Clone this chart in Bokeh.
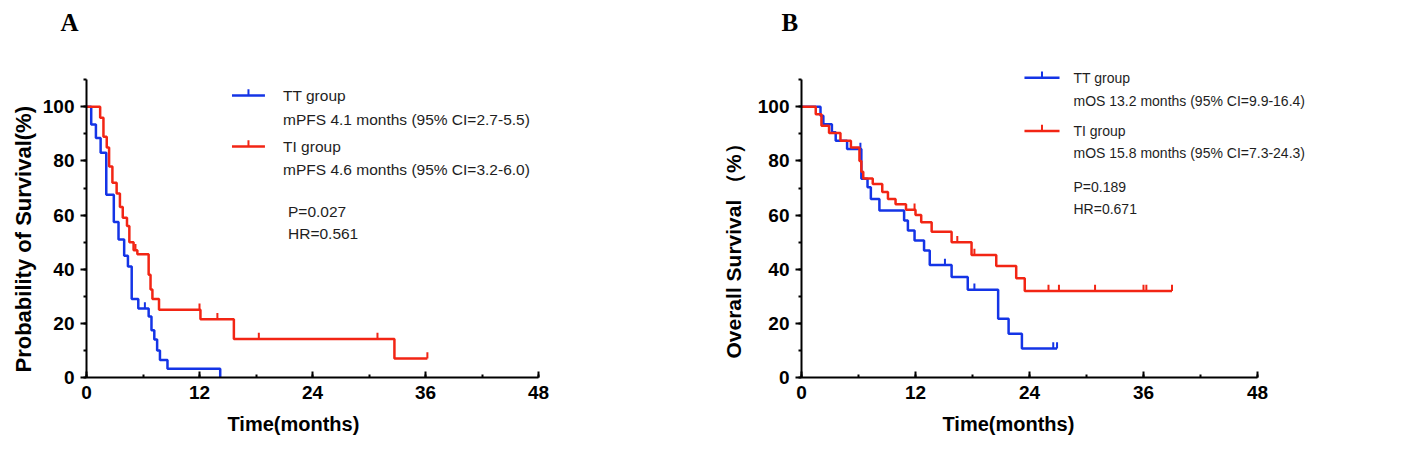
from bokeh.plotting import figure
from bokeh.models import SingleIntervalTicker, Range1d, Title
from bokeh.layouts import row
from bokeh.embed import file_html
from bokeh.resources import INLINE
from bokeh.core.properties import value

# ---------------- data ----------------
x_ticks = [0, 12, 24, 36, 48]
y_ticks = [0, 20, 40, 60, 80, 100]

# Panel A: progression-free survival
a_tt_time = [0.5, 1.0, 1.5, 2.1, 2.9, 3.4, 4.0, 4.4, 4.8, 5.5, 6.6, 6.9, 7.2, 7.5, 7.8, 8.6, 14.2]
a_tt_surv = [93.5, 88.5, 83.0, 67.5, 57.5, 51.0, 45.0, 41.0, 29.0, 25.5, 22.5, 17.5, 14.0, 10.0, 6.5, 3.2, 0.0]
a_tt_end = 14.2
a_tt_cens_t = [6.2]
a_tt_cens_s = [25.5]

a_ti_time = [1.45, 1.8, 2.15, 2.4, 2.75, 3.2, 3.55, 3.85, 4.3, 4.55, 5.0, 5.4, 6.6, 6.8, 7.0, 7.7, 12.1, 15.65, 32.7]
a_ti_surv = [96.0, 89.0, 85.0, 78.0, 72.0, 68.0, 63.0, 59.0, 56.0, 50.0, 47.0, 45.5, 38.0, 32.5, 29.0, 25.0, 21.5, 14.2, 7.0]
a_ti_end = 36.2
a_ti_cens_t = [5.2, 12.0, 13.9, 18.3, 30.9, 36.2]
a_ti_cens_s = [47.0, 25.0, 21.5, 14.2, 14.2, 7.0]

# Panel B: overall survival
b_tt_time = [2.0, 2.3, 3.2, 3.6, 4.8, 6.3, 6.95, 7.3, 8.2, 10.8, 11.2, 11.9, 12.9, 13.5, 15.8, 17.5, 20.7, 21.8, 23.2]
b_tt_surv = [96.7, 93.6, 90.6, 87.5, 84.4, 73.4, 70.3, 66.0, 61.7, 58.0, 54.3, 50.6, 46.9, 41.6, 37.1, 32.4, 21.7, 16.2, 10.7]
b_tt_end = 26.9
b_tt_cens_t = [6.2, 15.1, 18.2, 26.5, 26.9]
b_tt_cens_s = [84.4, 41.6, 32.4, 10.7, 10.7]

b_ti_time = [1.5, 2.1, 2.9, 4.1, 5.2, 6.1, 6.3, 6.5, 7.5, 8.5, 9.1, 9.9, 11.0, 12.0, 12.6, 13.7, 15.8, 17.9, 20.5, 22.6, 23.5]
b_ti_surv = [97.3, 93.0, 90.3, 87.5, 85.0, 80.0, 76.0, 73.5, 71.5, 68.5, 66.0, 64.0, 62.0, 60.0, 57.4, 53.9, 50.0, 45.3, 41.2, 36.7, 32.0]
b_ti_end = 39.0
b_ti_cens_t = [11.9, 16.4, 18.2, 26.0, 27.1, 30.9, 36.0, 36.3, 39.0]
b_ti_cens_s = [62.0, 50.0, 45.3, 32.0, 32.0, 32.0, 32.0, 32.0, 32.0]

a_legend = ["TT group", "mPFS 4.1 months (95% CI=2.7-5.5)",
            "TI group", "mPFS 4.6 months (95% CI=3.2-6.0)",
            "P=0.027", "HR=0.561"]
b_legend = ["TT group", "mOS 13.2 months (95% CI=9.9-16.4)",
            "TI group", "mOS 15.8 months (95% CI=7.3-24.3)",
            "P=0.189", "HR=0.671"]

BLUE = "#1434e6"
RED = "#f22514"
FONT = "Liberation Sans"


def km_xy(times, surv, end):
    xs = [0.0] + list(times) + [end]
    ys = [100.0] + list(surv) + [surv[-1]]
    return xs, ys


def make_panel(width, lb, rb, bb, xmax, ylabel, ylabel_size, ylabel_offset, ylabel_standoff,
               tag, tag_offset, xlabel_offset, series, legend, leg_pos, leg_size):
    p = figure(width=width, height=446, output_backend="svg", toolbar_location=None,
               x_range=Range1d(0, xmax), y_range=Range1d(0, 126),
               min_border_left=lb, min_border_right=rb, min_border_top=36,
               min_border_bottom=bb)
    p.outline_line_color = None
    p.grid.visible = False
    p.background_fill_color = "white"

    p.title.text = tag
    p.title.text_font = "Liberation Serif"
    p.title.text_font_style = "bold"
    p.title.text_font_size = "25px"
    p.title.text_color = "black"
    p.title.align = "left"
    p.title.offset = tag_offset
    p.title.standoff = 2

    p.xaxis.ticker = SingleIntervalTicker(interval=12, num_minor_ticks=2)
    p.yaxis.ticker = SingleIntervalTicker(interval=20, num_minor_ticks=2)
    p.xaxis.bounds = (0, 48)
    p.yaxis.bounds = (0, 110)
    for ax in (p.xaxis, p.yaxis):
        ax.axis_line_width = 2
        ax.axis_line_color = "black"
        ax.major_tick_line_width = 2
        ax.minor_tick_line_width = 2
        ax.major_tick_line_color = "black"
        ax.minor_tick_line_color = "black"
        ax.major_label_text_font = FONT
        ax.major_label_text_font_style = "bold"
        ax.major_label_text_font_size = "19px"
        ax.major_label_text_color = "black"
    p.xaxis.major_tick_in = 6
    p.xaxis.major_tick_out = 0
    p.xaxis.minor_tick_in = 3
    p.xaxis.minor_tick_out = 0
    p.xaxis.major_label_standoff = 8
    p.yaxis.major_tick_in = 0
    p.yaxis.major_tick_out = 6
    p.yaxis.minor_tick_in = 0
    p.yaxis.minor_tick_out = 3
    p.yaxis.major_label_standoff = 6

    # axis titles (as side titles so they can be positioned like the original)
    xt = Title(text="Time(months)", align="left", offset=xlabel_offset, standoff=18,
               text_font=FONT, text_font_style="bold", text_font_size="20px",
               text_color="black")
    p.add_layout(xt, "below")
    yt = Title(text=ylabel, align="left", offset=ylabel_offset, standoff=ylabel_standoff,
               text_font=FONT, text_font_style="bold", text_font_size=ylabel_size,
               text_color="black")
    p.add_layout(yt, "left")

    for (times, surv, end, ct, cs, col) in series:
        xs, ys = km_xy(times, surv, end)
        p.step(x=xs, y=ys, mode="after", line_width=2.5, line_color=col)
        p.segment(x0=ct, y0=cs, x1=ct, y1=[s + 2.3 for s in cs],
                  line_width=2, line_color=col)

    # legend-like block
    lx0, lx1, tx, y_tt, y_tt2, y_ti, y_ti2, px, y_p, y_hr = leg_pos
    p.segment(x0=[lx0, lx0], y0=[y_tt, y_ti], x1=[lx1, lx1], y1=[y_tt, y_ti],
              line_color=[BLUE, RED], line_width=2.5)
    mid = (lx0 + lx1) / 2
    p.segment(x0=[mid, mid], y0=[y_tt, y_ti], x1=[mid, mid], y1=[y_tt + 2.3, y_ti + 2.3],
              line_color=[BLUE, RED], line_width=2)
    p.text(x=[tx, tx, tx, tx, px, px],
           y=[y_tt, y_tt2, y_ti, y_ti2, y_p, y_hr],
           text=legend, text_font=value(FONT), text_font_size=leg_size,
           text_color="#1e1e1e", text_baseline="middle", text_align="left")
    return p


pA = make_panel(
    708, 86, 170, 69, 48, "Probability of Survival(%)", "22px", 5, 8, "A", -26, 141,
    [(a_tt_time, a_tt_surv, a_tt_end, a_tt_cens_t, a_tt_cens_s, BLUE),
     (a_ti_time, a_ti_surv, a_ti_end, a_ti_cens_t, a_ti_cens_s, RED)],
    a_legend,
    (15.45, 18.95, 20.87, 104.2, 95.2, 85.4, 76.9, 21.4, 61.2, 53.1),
    "15.5px")

pB = make_panel(
    709, 93, 103, 67, 54, "Overall Survival （%）", "21px", 19, 20, "B", -20, 141,
    [(b_tt_time, b_tt_surv, b_tt_end, b_tt_cens_t, b_tt_cens_s, BLUE),
     (b_ti_time, b_ti_surv, b_ti_end, b_ti_cens_t, b_ti_cens_s, RED)],
    b_legend,
    (23.47, 27.16, 28.63, 110.8, 102.3, 91.1, 82.8, 28.63, 70.3, 62.2),
    "14px")

layout = row(pA, pB)
open("out.html", "w").write(file_html(layout, INLINE))
